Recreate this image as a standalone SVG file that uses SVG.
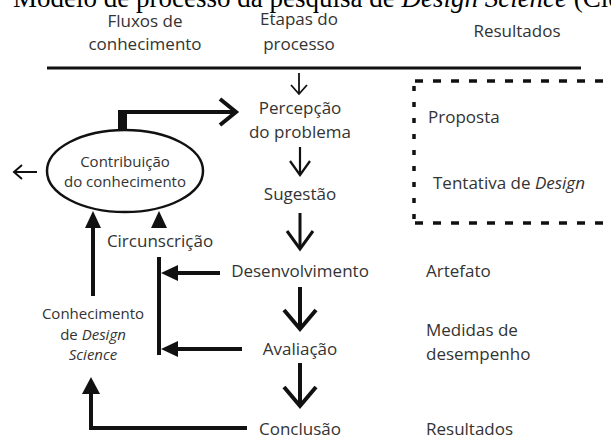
<svg xmlns="http://www.w3.org/2000/svg" width="611" height="447" viewBox="0 0 611 447">
<style>
.t{font-family:"Open Sans","Noto Sans","DejaVu Sans",sans-serif;font-size:17px;fill:#333}
.s{font-size:15px}
.m{text-anchor:middle}
.i{font-style:italic}
.title{font-family:"Liberation Serif","Times New Roman",serif;font-size:27px;fill:#000}
.ln{stroke:#111;fill:none;stroke-linecap:butt;stroke-linejoin:miter}
.ah{fill:#111;stroke:none}
.dash{stroke:#111;stroke-width:3.5;fill:none}
</style>
<rect width="611" height="447" fill="#fff"/>
<text class="title" x="13" y="7">Modelo de processo da pesquisa de <tspan font-style="italic">Design Science</tspan> (Cleber</text>

<g id="header">
<text class="t m" x="145" y="27">Fluxos de</text>
<text class="t m" x="145" y="50">conhecimento</text>
<text class="t m" x="299" y="25">Etapas do</text>
<text class="t m" x="299" y="50">processo</text>
<text class="t m" x="517" y="37">Resultados</text>
<line class="ln" x1="47" y1="68" x2="581" y2="68" stroke-width="3"/>
</g>

<g id="resultbox">
<line class="dash" x1="415" y1="81" x2="611" y2="81" stroke-dasharray="8 10"/>
<line class="dash" x1="414" y1="86" x2="414" y2="222" stroke-dasharray="5 11"/>
<line class="dash" x1="415" y1="223" x2="611" y2="223" stroke-dasharray="8 10"/>
</g>

<g id="n-percepcao"><text class="t m" x="300" y="114">Percepção</text><text class="t m" x="300" y="138">do problema</text></g>
<g id="n-sugestao"><text class="t m" x="300" y="200">Sugestão</text></g>
<g id="n-desenvolvimento"><text class="t m" x="300" y="277">Desenvolvimento</text></g>
<g id="n-avaliacao"><text class="t m" x="300" y="355">Avaliação</text></g>
<g id="n-conclusao"><text class="t m" x="300" y="435">Conclusão</text></g>

<g id="n-contribuicao">
<ellipse cx="125" cy="171" rx="78" ry="41" fill="#fff" stroke="#111" stroke-width="2.5"/>
<text class="t s m" x="125" y="167">Contribuição</text>
<text class="t s m" x="125" y="187">do conhecimento</text>
</g>
<g id="n-circunscricao"><text class="t m" x="160" y="247">Circunscrição</text></g>
<g id="n-conhecimento-ds">
<text class="t s m" x="93" y="319">Conhecimento</text>
<text class="t s m" x="93" y="340">de <tspan class="i">Design</tspan></text>
<text class="t s m i" x="93" y="360">Science</text>
</g>

<g id="r-proposta"><text class="t" x="428" y="123">Proposta</text></g>
<g id="r-tentativa"><text class="t" x="433" y="189">Tentativa de <tspan class="i">Design</tspan></text></g>
<g id="r-artefato"><text class="t" x="426" y="277">Artefato</text></g>
<g id="r-medidas"><text class="t" x="426" y="336">Medidas de</text><text class="t" x="426" y="360">desempenho</text></g>
<g id="r-resultados"><text class="t" x="426" y="435">Resultados</text></g>

<g id="connectors">
<line class="ln" x1="299" y1="73" x2="299" y2="94" stroke-width="1.8"/>
<polyline class="ln" points="291,85 299,94 307,85" stroke-width="1.8"/>
<line class="ln" x1="300" y1="147" x2="300" y2="175" stroke-width="2.2"/>
<polyline class="ln" points="290,161 300,175 310,161" stroke-width="2.2"/>
<line class="ln" x1="300" y1="213" x2="300" y2="249" stroke-width="3"/>
<polyline class="ln" points="287,231 300,249 313,231" stroke-width="3"/>
<line class="ln" x1="300" y1="287" x2="300" y2="329" stroke-width="4"/>
<polyline class="ln" points="284,310 300,329 316,310" stroke-width="4"/>
<line class="ln" x1="300" y1="363" x2="300" y2="406" stroke-width="4"/>
<polyline class="ln" points="284,387 300,406 316,387" stroke-width="4"/>

<line class="ln" x1="122.5" y1="110" x2="122.5" y2="131" stroke-width="9"/>
<line class="ln" x1="118" y1="112" x2="234" y2="112" stroke-width="4"/>
<polyline class="ln" points="220,99 236,112 220,125" stroke-width="4"/>

<line class="ln" x1="15" y1="172" x2="37" y2="172" stroke-width="2"/>
<polyline class="ln" points="22,165 14,172 22,179" stroke-width="2"/>

<polygon class="ah" points="93,211 85,228 101,228"/>
<line class="ln" x1="93" y1="227" x2="93" y2="296" stroke-width="4"/>
<polygon class="ah" points="159,211 151,228 167,228"/>
<line class="ln" x1="159" y1="257" x2="159" y2="355" stroke-width="4"/>

<line class="ln" x1="220" y1="273" x2="175" y2="273" stroke-width="4"/>
<polygon class="ah" points="161,273 178,265 178,281"/>
<line class="ln" x1="242" y1="349" x2="175" y2="349" stroke-width="4"/>
<polygon class="ah" points="161,349 178,341 178,357"/>

<polyline class="ln" points="247,428 91,428 91,392" stroke-width="4"/>
<polygon class="ah" points="91,377 82,394 100,394"/>
</g>
</svg>
